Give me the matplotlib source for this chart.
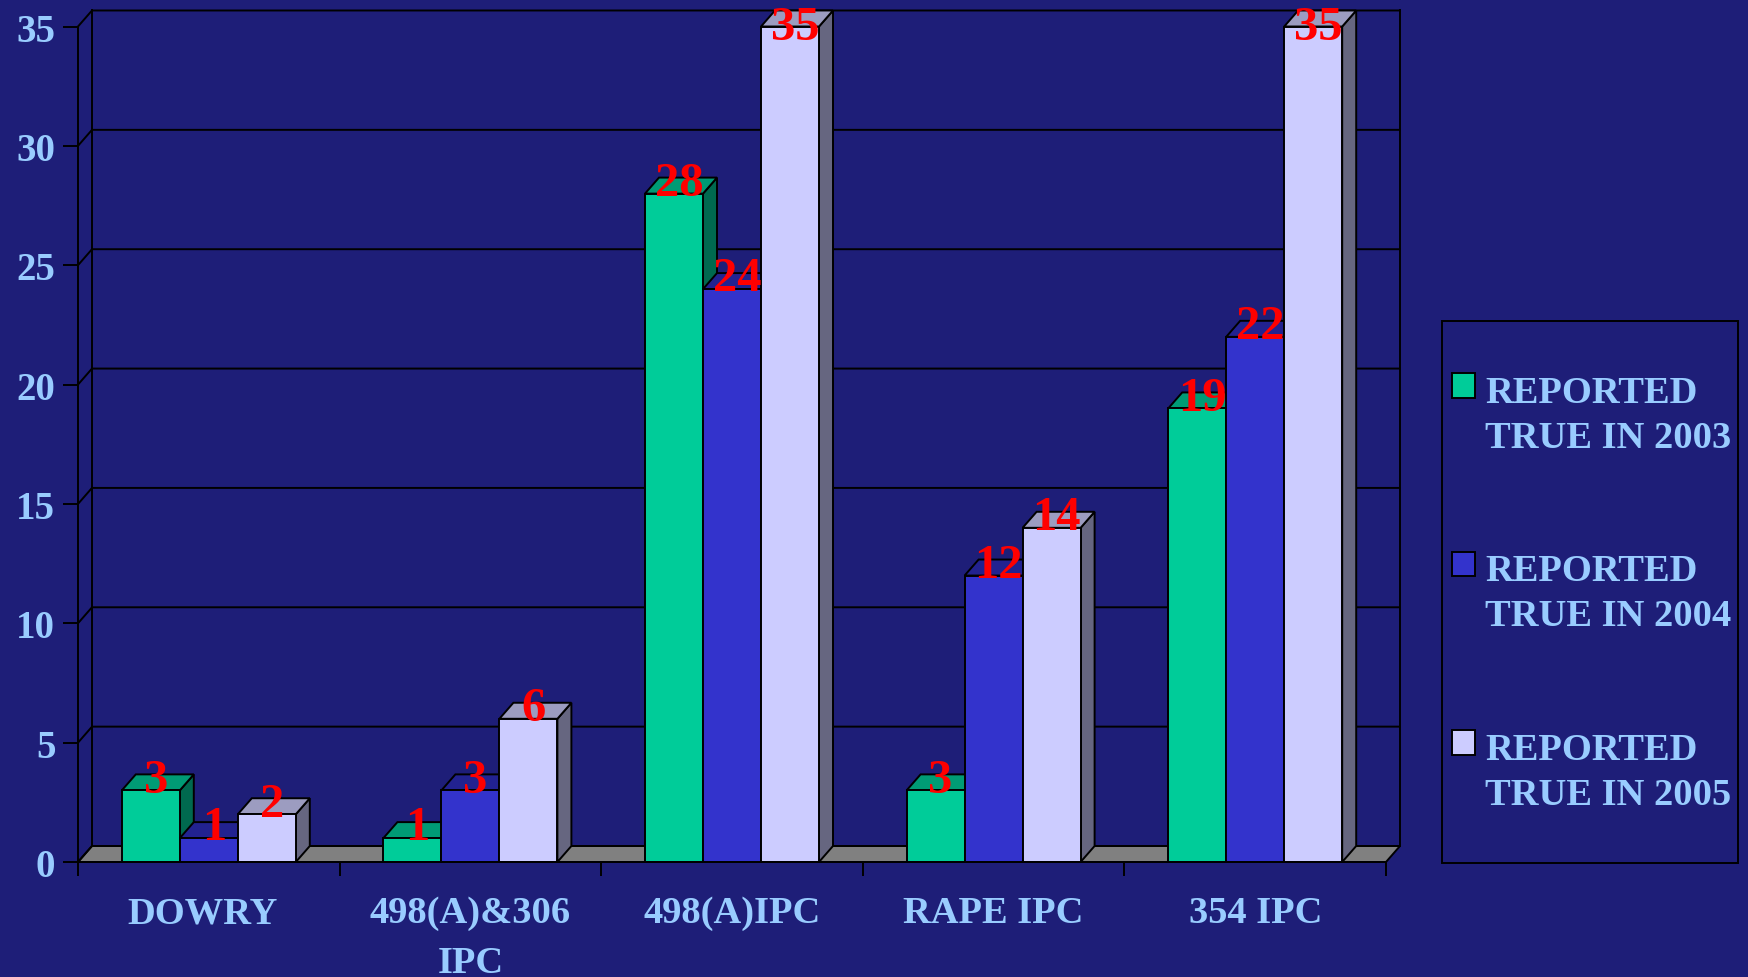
import matplotlib
matplotlib.use('Agg')
import matplotlib.pyplot as plt
import numpy as np
from matplotlib.legend_handler import HandlerPatch
from matplotlib.patches import Polygon, Rectangle
from matplotlib.transforms import ScaledTranslation

categories = ['DOWRY', '498(A)&306\nIPC', '498(A)IPC', 'RAPE IPC', '354 IPC']
series_names = ['REPORTED\nTRUE IN 2003', 'REPORTED\nTRUE IN 2004', 'REPORTED\nTRUE IN 2005']
values_2003 = [3, 1, 28, 3, 19]
values_2004 = [1, 3, 24, 12, 22]
values_2005 = [2, 6, 35, 14, 35]
y_ticks = [0, 5, 10, 15, 20, 25, 30, 35]

BG = '#1E1E78'
TEXT = '#99CCFF'
LW = 1.4
W, H = 1749, 978

# front, top, side
colors = [('#00CC99', '#009B75', '#00694F'),
          ('#3333CC', '#222290', '#222290'),
          ('#CCCCFF', '#9C9CC0', '#666680')]

plt.rcParams['font.family'] = ['Liberation Serif', 'DejaVu Serif']
plt.rcParams['font.weight'] = 'bold'

fig = plt.figure(figsize=(W / 100, H / 100), dpi=100, facecolor=BG)
ax = fig.add_axes([78 / W, (H - 863) / H, 1308 / W, 835.5 / H])
ax.set_facecolor('none')
ax.set_xlim(-0.5, 4.5)
ax.set_ylim(0, 35)

# depth of the fake 3D, in data units
dx = 14 / 261.6
dy = 16 / 23.86
bar_w = 58 / 261.6
x0, x1 = -0.5, 4.5


def line(xs, ys, z=1):
    ax.plot(xs, ys, color='black', lw=LW, clip_on=False, zorder=z, solid_capstyle='projecting')


# back wall and floor
ax.add_patch(Polygon([(x0, 0), (x1, 0), (x1 + dx, dy), (x0 + dx, dy)], closed=True,
                     facecolor='#808080', edgecolor='black', lw=LW, clip_on=False, zorder=1))
for t in y_ticks:
    line([x0, x0 + dx, x1 + dx], [t, t + dy, t + dy])
line([x0 + dx, x0 + dx], [dy, 35 + dy])
line([x1 + dx, x1 + dx], [dy, 35 + dy])


def add_box(x, v, c, z):
    left, right = x - bar_w / 2, x + bar_w / 2
    ax.add_patch(Polygon([(right, 0), (right + dx, dy), (right + dx, v + dy), (right, v)], closed=True,
                         facecolor=c[2], edgecolor='black', lw=LW, clip_on=False, zorder=z))
    ax.add_patch(Polygon([(left, v), (right, v), (right + dx, v + dy), (left + dx, v + dy)], closed=True,
                         facecolor=c[1], edgecolor='black', lw=LW, clip_on=False, zorder=z))
    ax.bar(x, v, bar_w, color=c[0], edgecolor='black', lw=LW, clip_on=False, zorder=z + 0.5)


# bars, painted from left to right
x = np.arange(len(categories))
series = [values_2003, values_2004, values_2005]
z = 2
for pos in range(len(categories)):
    for s in range(3):
        add_box(pos + (s - 1) * bar_w, series[s][pos], colors[s], z)
        z += 1

# red value labels, the top ones are held at the chart's edge
for s in range(3):
    for pos in range(len(categories)):
        v = series[s][pos]
        ax.text(pos + (s - 1) * bar_w + 0.019, min(v + 0.45, 35), str(v), color='red',
                fontsize=35, ha='center', va='center', zorder=100, clip_on=False)

# axes
for name in ['top', 'right']:
    ax.spines[name].set_visible(False)
for name in ['left', 'bottom']:
    ax.spines[name].set_linewidth(LW)
    ax.spines[name].set_zorder(60)
ax.set_yticks(y_ticks)
ax.set_xticks(np.arange(-0.5, 5, 1))
ax.set_xticklabels([])
ax.set_xticks(x, categories, minor=True)
ax.tick_params(axis='y', length=10.8, width=LW, color='black', labelcolor=TEXT, labelsize=28, pad=5.5)
ax.tick_params(axis='x', which='major', length=10, width=LW, color='black')
ax.tick_params(axis='x', which='minor', length=0, labelcolor=TEXT, labelsize=27.7, pad=24)
first = ax.get_xticklabels(minor=True)[0]
first.set_transform(first.get_transform() + ScaledTranslation(-6 / 100, 0, fig.dpi_scale_trans))
for lab in ax.get_xticklabels(minor=True):
    lab.set_linespacing(1.53)

# legend frame
fig.add_artist(Rectangle((1442 / W, (H - 864) / H), 296 / W, 542 / H, transform=fig.transFigure,
                         facecolor='none', edgecolor='black', lw=LW))


def swatch(legend, orig_handle, xdescent, ydescent, width, height, fontsize):
    # square sits next to the first line of the label
    return Rectangle((-xdescent, 22.2), width, height)


handles = [Rectangle((0, 0), 1, 1, facecolor=c[0], edgecolor='black', lw=LW) for c in colors]
leg = fig.legend(handles, series_names, loc='upper left', bbox_to_anchor=(1452 / W, (H - 376) / H),
                 bbox_transform=fig.transFigure, frameon=False, fontsize=27.7, labelcolor=TEXT,
                 borderpad=0, borderaxespad=0, handlelength=0.59, handleheight=0.59,
                 handletextpad=0.28, labelspacing=2.56,
                 handler_map={Rectangle: HandlerPatch(patch_func=swatch)})
for t in leg.get_texts():
    t.set_linespacing(1.37)

fig.savefig('out.png', dpi=100, facecolor=BG)
